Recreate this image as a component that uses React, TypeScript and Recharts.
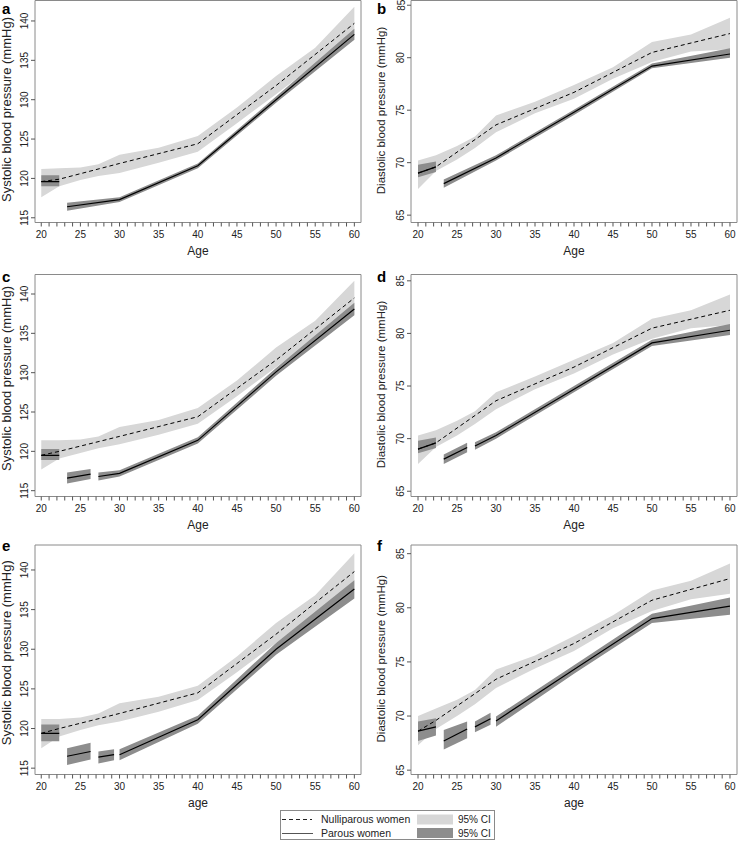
import { ComposedChart, Area, Line, XAxis, YAxis, ReferenceArea, Label } from "recharts";

const lineAges = [20, 22.3, 30, 40, 50, 60];
const bandAges = [20, 22.3, 25, 27.3, 30, 35, 40, 45, 50, 55, 60];

const ageTicks = [
  20, 21, 22, 23, 24, 25, 26, 27, 28, 29, 30, 31, 32, 33, 34, 35, 36, 37, 38, 39, 40,
  41, 42, 43, 44, 45, 46, 47, 48, 49, 50, 51, 52, 53, 54, 55, 56, 57, 58, 59, 60,
];
const sbpTicks = [115, 120, 125, 130, 135, 140];
const dbpTicks = [65, 70, 75, 80, 85];

// a: systolic, model 1
const aNulliMean = [119.6, 119.9, 121.9, 124.4, 131.8, 139.7];
const aNulliLo = [117.6, 119.0, 119.8, 120.3, 120.7, 122.0, 123.4, 127.0, 130.7, 134.5, 137.6];
const aNulliHi = [121.2, 121.3, 121.4, 121.8, 123.0, 123.9, 125.4, 129.0, 133.0, 136.6, 141.8];
const aParAges = [[20, 22.3], [23.3, 30, 40, 50, 60]];
const aParMean = [[119.6, 119.6], [116.4, 117.3, 121.6, 130.0, 138.3]];
const aParLo = [[119.0, 119.0], [115.9, 117.0, 121.3, 129.6, 137.6]];
const aParHi = [[120.4, 120.4], [116.9, 117.6, 121.9, 130.4, 139.0]];

// b: diastolic, model 1
const bNulliMean = [69.0, 69.6, 73.6, 76.7, 80.5, 82.3];
const bNulliLo = [67.5, 69.2, 70.3, 71.4, 72.9, 74.7, 76.1, 78.0, 79.6, 80.6, 80.8];
const bNulliHi = [70.2, 70.7, 71.6, 72.5, 74.5, 75.8, 77.4, 79.1, 81.5, 82.2, 83.8];
const bParAges = [[20, 22.3], [23.3, 30, 40, 50, 60]];
const bParMean = [[69.0, 69.6], [68.0, 70.45, 74.8, 79.2, 80.35]];
const bParLo = [[68.6, 69.1], [67.6, 70.2, 74.55, 79.0, 80.0]];
const bParHi = [[69.8, 70.1], [68.4, 70.7, 75.05, 79.45, 80.9]];

// c: systolic, model 2
const cNulliMean = [119.5, 120.0, 121.9, 124.4, 131.6, 139.5];
const cNulliLo = [117.7, 119.1, 119.8, 120.4, 120.9, 122.1, 123.5, 127.0, 130.7, 134.4, 137.4];
const cNulliHi = [121.4, 121.4, 121.5, 121.9, 123.1, 124.0, 125.5, 129.0, 133.2, 136.6, 141.7];
const cParAges = [[20, 22.3], [23.3, 26.3], [27.3, 30, 40, 50, 60]];
const cParMean = [[119.5, 119.5], [116.6, 117.1], [116.8, 117.2, 121.4, 130.1, 138.1]];
const cParLo = [[118.9, 118.9], [115.9, 116.5], [116.3, 116.8, 121.0, 129.6, 137.3]];
const cParHi = [[120.3, 120.3], [117.3, 117.75], [117.3, 117.6, 121.8, 130.6, 138.9]];

// d: diastolic, model 2
const dNulliMean = [69.0, 69.6, 73.6, 76.8, 80.5, 82.2];
const dNulliLo = [67.6, 69.2, 70.3, 71.4, 72.8, 74.7, 76.2, 78.0, 79.5, 80.5, 80.8];
const dNulliHi = [70.3, 70.8, 71.7, 72.6, 74.4, 75.9, 77.5, 79.1, 81.4, 82.2, 83.7];
const dParAges = [[20, 22.3], [23.3, 26.3], [27.3, 30, 40, 50, 60]];
const dParMean = [[69.0, 69.6], [68.05, 69.15], [69.3, 70.3, 74.7, 79.1, 80.3]];
const dParLo = [[68.6, 69.1], [67.6, 68.7], [68.95, 70.0, 74.4, 78.8, 79.85]];
const dParHi = [[69.8, 70.1], [68.5, 69.6], [69.65, 70.6, 75.0, 79.4, 80.9]];

// e: systolic, model 3
const eNulliMean = [119.4, 120.0, 121.9, 124.5, 131.9, 139.8];
const eNulliLo = [117.5, 119.0, 119.8, 120.4, 120.9, 122.1, 123.6, 127.1, 130.8, 134.6, 137.5];
const eNulliHi = [121.2, 121.2, 121.4, 121.9, 123.2, 124.0, 125.4, 129.1, 133.3, 136.8, 142.1];
const eParAges = [[20, 22.3], [23.3, 26.3], [27.3, 29.3], [30, 40, 50, 60]];
const eParMean = [[119.4, 119.4], [116.5, 117.1], [116.4, 116.7], [116.7, 121.1, 130.0, 137.6]];
const eParLo = [[118.4, 118.4], [115.4, 116.1], [115.6, 116.0], [116.0, 120.6, 129.3, 136.4]];
const eParHi = [[120.5, 120.5], [117.5, 118.2], [117.1, 117.4], [117.4, 121.6, 130.8, 138.7]];

// f: diastolic, model 3
const fNulliMean = [68.6, 69.6, 73.4, 76.7, 80.7, 82.7];
const fNulliLo = [67.3, 68.8, 70.0, 71.1, 72.6, 74.4, 76.0, 78.1, 79.7, 80.8, 81.3];
const fNulliHi = [70.0, 70.7, 71.5, 72.4, 74.3, 75.6, 77.4, 79.3, 81.6, 82.5, 84.1];
const fParAges = [[20, 22.3], [23.3, 26.3], [27.3, 29.3], [30, 40, 50, 60]];
const fParMean = [[68.6, 69.0], [67.7, 68.8], [69.0, 69.75], [69.55, 74.3, 79.0, 80.15]];
const fParLo = [[67.7, 68.2], [66.9, 67.95], [68.5, 69.2], [69.0, 73.9, 78.6, 79.35]];
const fParHi = [[69.5, 69.8], [68.7, 69.5], [69.5, 70.3], [69.95, 74.7, 79.45, 80.95]];

const FONT = '"Liberation Sans", Arial, Helvetica, sans-serif';
const LIGHT = "#d7d7d7";
const DARK = "#8d8d8d";
const FRAME = "#8a8a8a";
const TEXT = "#222";

const SBP = "Systolic blood pressure (mmHg)";
const DBP = "Diastolic blood pressure (mmHg)";

const toBand = (ages: number[], lo: number[], hi: number[]) =>
  ages.map((age, i) => ({ age, range: [lo[i], hi[i]] }));
const toLine = (ages: number[], v: number[]) => ages.map((age, i) => ({ age, v: v[i] }));

interface PanelProps {
  left: number;
  top: number;
  col: 0 | 1;
  marginTop: number;
  xAxisHeight: number;
  yDomain: [number, number];
  yTicks: number[];
  yTitle: string;
  titleShift: number;
  xTitle: string;
  nulliMean: number[];
  nulliLo: number[];
  nulliHi: number[];
  parAges: number[][];
  parMean: number[][];
  parLo: number[][];
  parHi: number[][];
}

function Panel(p: PanelProps) {
  const isLeft = p.col === 0;
  const yAxisWidth = isLeft ? 35 : 42;
  const xDomain: [number, number] = isLeft ? [19.2, 60.85] : [19.1, 60.9];

  const nulliBand = toBand(bandAges, p.nulliLo, p.nulliHi);
  const nulliLine = toLine(lineAges, p.nulliMean);
  const parBands = p.parAges.map((ages, i) => toBand(ages, p.parLo[i], p.parHi[i]));
  const parLines = p.parAges.map((ages, i) => toLine(ages, p.parMean[i]));

  const yTick = (props: any) => {
    const { x, y, payload } = props;
    const tx = x - 0.5;
    return (
      <text x={tx} y={y} transform={`rotate(-90 ${tx} ${y})`} textAnchor="middle"
            fontSize={10} fill={TEXT} fontFamily={FONT}>
        {payload.value}
      </text>
    );
  };

  return (
    <div style={{ position: "absolute", left: p.left, top: p.top }}>
      <ComposedChart
        width={369}
        height={270}
        margin={{ top: p.marginTop, right: isLeft ? 8 : 1, left: 0, bottom: 0 }}
      >
        <XAxis
          dataKey="age"
          type="number"
          domain={xDomain}
          allowDataOverflow
          ticks={ageTicks}
          interval={0}
          tickFormatter={(v: number) => (v % 5 === 0 ? String(v) : "")}
          tick={{ fontSize: 10, fill: TEXT, fontFamily: FONT }}
          tickLine={{ stroke: "#555" }}
          tickSize={4}
          tickMargin={4}
          axisLine={false}
          height={p.xAxisHeight}
        >
          <Label
            content={({ viewBox }: any) => (
              <text x={viewBox.x + viewBox.width / 2} y={viewBox.y + 32} textAnchor="middle"
                    fontSize={12} fill={TEXT} fontFamily={FONT}>
                {p.xTitle}
              </text>
            )}
          />
        </XAxis>
        <YAxis
          type="number"
          domain={p.yDomain}
          allowDataOverflow
          ticks={p.yTicks}
          interval={0}
          tick={yTick}
          tickLine={{ stroke: "#555" }}
          tickSize={4}
          tickMargin={2}
          axisLine={false}
          width={yAxisWidth}
        >
          <Label
            content={({ viewBox }: any) => {
              const tx = viewBox.x + (isLeft ? 11 : 16);
              const ty = viewBox.y + viewBox.height / 2 + p.titleShift;
              return (
                <text x={tx} y={ty} transform={`rotate(-90 ${tx} ${ty})`} textAnchor="middle"
                      fontSize={p.yTitle === SBP ? 13 : 11.5} fill={TEXT} fontFamily={FONT}>
                  {p.yTitle}
                </text>
              );
            }}
          />
        </YAxis>

        <Area data={nulliBand} dataKey="range" type="linear" stroke="none" fill={LIGHT}
              fillOpacity={1} isAnimationActive={false} dot={false} activeDot={false} />
        {parBands.map((d, i) => (
          <Area key={`pb${i}`} data={d} dataKey="range" type="linear" stroke="none" fill={DARK}
                fillOpacity={1} isAnimationActive={false} dot={false} activeDot={false} />
        ))}
        <Line data={nulliLine} dataKey="v" type="linear" stroke="#000" strokeWidth={1}
              strokeDasharray="4 3" dot={false} activeDot={false} isAnimationActive={false} />
        {parLines.map((d, i) => (
          <Line key={`pl${i}`} data={d} dataKey="v" type="linear" stroke="#000" strokeWidth={1.2}
                dot={false} activeDot={false} isAnimationActive={false} />
        ))}
        <ReferenceArea x1={xDomain[0]} x2={xDomain[1]} y1={p.yDomain[0]} y2={p.yDomain[1]}
                       fill="none" stroke={FRAME} strokeWidth={1} ifOverflow="visible" />
      </ComposedChart>
    </div>
  );
}

const panelLetters = ["a", "b", "c", "d", "e", "f"];
const letterBaselines = [14, 14, 281.5, 281.5, 550.5, 550.5];

export default function App() {
  return (
    <div style={{ position: "absolute", left: 0, top: 0, width: 738, height: 842, background: "#fff", fontFamily: FONT }}>
      <Panel left={0} top={0} col={0} marginTop={0.5} xAxisHeight={47.5} yDomain={[114.4, 142.6]}
             yTicks={sbpTicks} yTitle={SBP} titleShift={-2} xTitle="Age"
             nulliMean={aNulliMean} nulliLo={aNulliLo} nulliHi={aNulliHi}
             parAges={aParAges} parMean={aParMean} parLo={aParLo} parHi={aParHi} />
      <Panel left={369} top={0} col={1} marginTop={0.5} xAxisHeight={47.5} yDomain={[64.3, 85.45]}
             yTicks={dbpTicks} yTitle={DBP} titleShift={-1} xTitle="Age"
             nulliMean={bNulliMean} nulliLo={bNulliLo} nulliHi={bNulliHi}
             parAges={bParAges} parMean={bParMean} parLo={bParLo} parHi={bParHi} />
      <Panel left={0} top={270} col={0} marginTop={4.5} xAxisHeight={43.5} yDomain={[114.26, 142.48]}
             yTicks={sbpTicks} yTitle={SBP} titleShift={-7} xTitle="Age"
             nulliMean={cNulliMean} nulliLo={cNulliLo} nulliHi={cNulliHi}
             parAges={cParAges} parMean={cParMean} parLo={cParLo} parHi={cParHi} />
      <Panel left={369} top={270} col={1} marginTop={4.5} xAxisHeight={43.5} yDomain={[64.5, 85.6]}
             yTicks={dbpTicks} yTitle={DBP} titleShift={-1} xTitle="Age"
             nulliMean={dNulliMean} nulliLo={dNulliLo} nulliHi={dNulliHi}
             parAges={dParAges} parMean={dParMean} parLo={dParLo} parHi={dParHi} />
      <Panel left={0} top={540} col={0} marginTop={5} xAxisHeight={35.5} yDomain={[114.2, 143.15]}
             yTicks={sbpTicks} yTitle={SBP} titleShift={-7} xTitle="age"
             nulliMean={eNulliMean} nulliLo={eNulliLo} nulliHi={eNulliHi}
             parAges={eParAges} parMean={eParMean} parLo={eParLo} parHi={eParHi} />
      <Panel left={369} top={540} col={1} marginTop={5} xAxisHeight={35.5} yDomain={[64.6, 85.8]}
             yTicks={dbpTicks} yTitle={DBP} titleShift={-1} xTitle="age"
             nulliMean={fNulliMean} nulliLo={fNulliLo} nulliHi={fNulliHi}
             parAges={fParAges} parMean={fParMean} parLo={fParLo} parHi={fParHi} />

      {/* panel letters and the shared legend */}
      <svg width={738} height={842} style={{ position: "absolute", left: 0, top: 0, pointerEvents: "none" }}>
        {panelLetters.map((l, i) => (
          <text key={l} x={i % 2 === 0 ? 2 : 377} y={letterBaselines[i]} fontSize={15}
                fontWeight="bold" fill="#000" fontFamily={FONT}>
            {l}
          </text>
        ))}
        <rect x={280.5} y={810.5} width={214} height={29} fill="#fff" stroke={FRAME} />
        <line x1={282} x2={312} y1={819.5} y2={819.5} stroke="#222" strokeDasharray="4 3" />
        <text x={321} y={823} fontSize={10.5} fill={TEXT} fontFamily={FONT}>Nulliparous women</text>
        <rect x={417} y={814.5} width={36} height={10} fill={LIGHT} />
        <text x={458} y={823} fontSize={10} fill={TEXT} fontFamily={FONT}>95% CI</text>
        <line x1={282} x2={313} y1={833.5} y2={833.5} stroke="#555" />
        <text x={321} y={837} fontSize={10.5} fill={TEXT} fontFamily={FONT}>Parous women</text>
        <rect x={417} y={828} width={36} height={10} fill={DARK} />
        <text x={458} y={837} fontSize={10} fill={TEXT} fontFamily={FONT}>95% CI</text>
      </svg>
    </div>
  );
}
